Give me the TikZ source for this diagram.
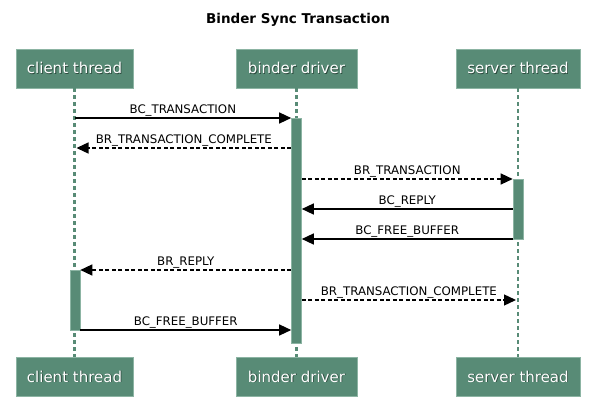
\documentclass[tikz,border=0pt]{standalone}
\usepackage{fontspec}
\setmainfont{DejaVu Sans}
\usetikzlibrary{arrows.meta,calc}
\definecolor{teal1}{RGB}{88,139,118}
\definecolor{teal2}{RGB}{140,180,163}
\definecolor{shad}{RGB}{45,75,62}
\newcommand{\shtext}[1]{\rlap{\kern0.8pt\raisebox{-0.8pt}{\textcolor{shad}{#1}}}#1}
\tikzset{
  part/.style={rectangle, fill=teal1, draw=teal2, line width=0.6pt, minimum height=39pt, text=white, font=\fontsize{15}{17}\selectfont, inner sep=0pt},
  lifeline/.style={draw=teal1, line width=2.5pt, dash pattern=on 4pt off 3pt},
  act/.style={rectangle, fill=teal1, draw=teal2, line width=0.6pt, minimum width=10pt, inner sep=0pt},
  msg/.style={-{Triangle[length=12pt,width=11pt]}, line width=1.3pt, black},
  rmsg/.style={msg, dash pattern=on 4pt off 2.5pt},
  lbl/.style={font=\fontsize{11.8}{13}\selectfont, above, inner sep=1.5pt, midway},
  ttl/.style={font=\bfseries\fontsize{13.5}{15}\selectfont}
}
\begin{document}
\begin{tikzpicture}[x=1pt,y=-1pt]
\useasboundingbox (0,0) rectangle (595,420);
\fill[white] (0,0) rectangle (595,420);
\node[ttl] (title) at (298,20) {Binder Sync Transaction};
% participants
\node[part, minimum width=117pt] (ct) at (74.5,68.5) {\shtext{client thread}};
\node[part, minimum width=121pt] (bt) at (296.5,68.5) {\shtext{binder driver}};
\node[part, minimum width=124pt] (st) at (518,68.5) {\shtext{server thread}};
\node[part, minimum width=117pt] (cb) at (74.5,377) {\shtext{client thread}};
\node[part, minimum width=121pt] (bb) at (296.5,377) {\shtext{binder driver}};
\node[part, minimum width=124pt] (sb) at (518,377) {\shtext{server thread}};
% lifelines
\draw[lifeline] (ct.south) -- (cb.north);
\draw[lifeline] (bt.south) -- (bb.north);
\draw[lifeline] (st.south) -- (sb.north);
% activations
\node[act, minimum height=225pt] (ab) at (296.5,230.5) {};
\node[act, minimum height=60pt] (as) at (518,209) {};
\node[act, minimum height=60pt] (ac) at (75,300) {};
% messages
\draw[msg] (ct.south |- 0,118) -- (ab.west |- 0,118) node[lbl] {BC\_TRANSACTION};
\draw[rmsg] (ab.west |- 0,148) -- ([xshift=2pt]ct.south |- 0,148) node[lbl] {BR\_TRANSACTION\_COMPLETE};
\draw[rmsg] (ab.east |- 0,179) -- (as.west |- 0,179) node[lbl] {BR\_TRANSACTION};
\draw[msg] (as.west |- 0,209) -- (ab.east |- 0,209) node[lbl] {BC\_REPLY};
\draw[msg] (as.west |- 0,239) -- (ab.east |- 0,239) node[lbl] {BC\_FREE\_BUFFER};
\draw[rmsg] (ab.west |- 0,270) -- (ac.east |- 0,270) node[lbl] {BR\_REPLY};
\draw[rmsg] (ab.east |- 0,300) -- ([xshift=-2pt]st.south |- 0,300) node[lbl] {BR\_TRANSACTION\_COMPLETE};
\draw[msg] (ac.east |- 0,330) -- (ab.west |- 0,330) node[lbl] {BC\_FREE\_BUFFER};
\end{tikzpicture}
\end{document}
